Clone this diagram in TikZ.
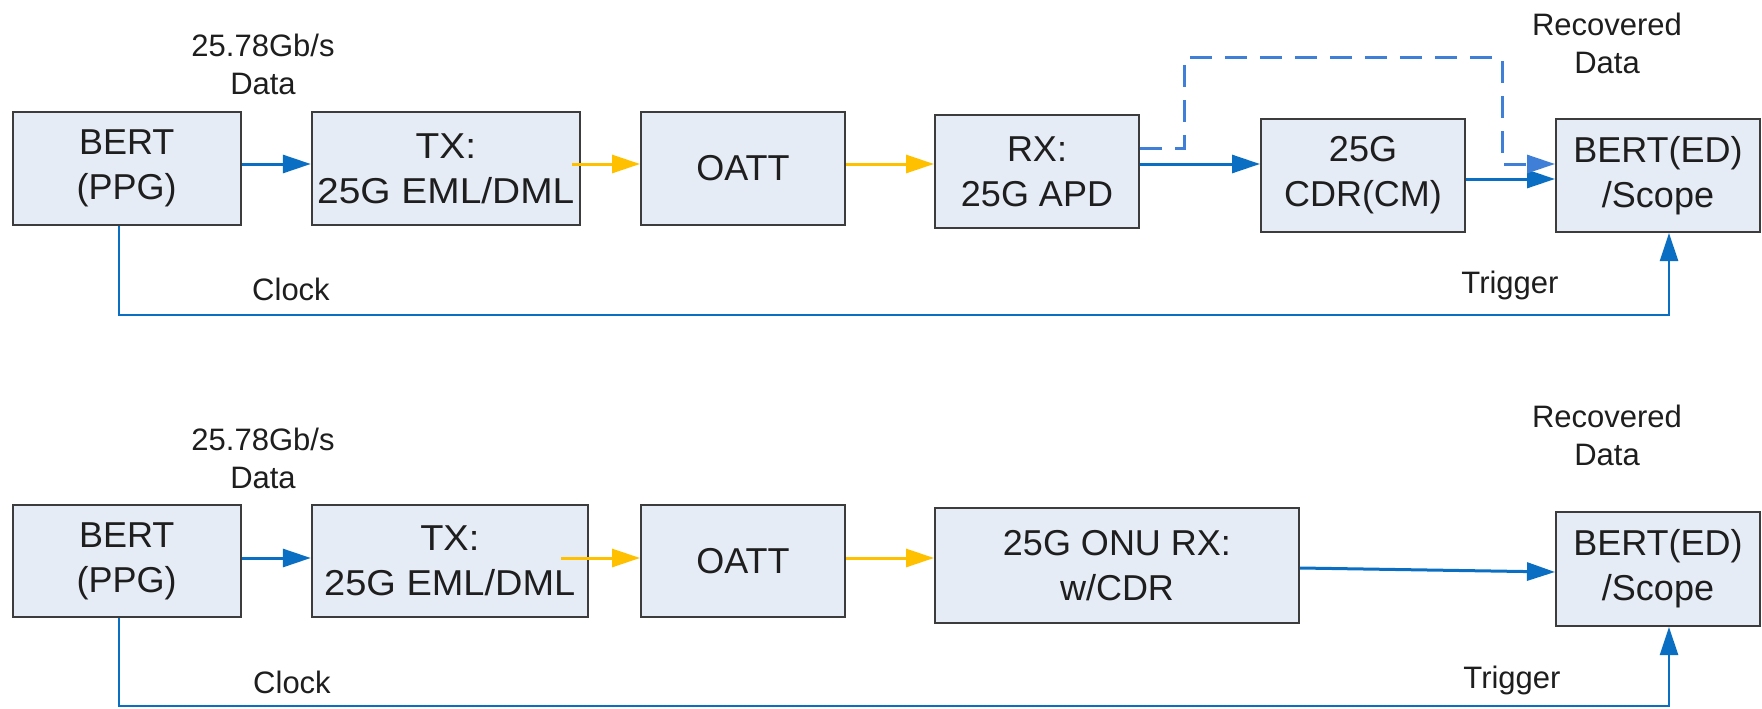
\documentclass[tikz,border=0pt]{standalone}
\usepackage{fontspec}
\setmainfont{Liberation Sans}
\newfontfamily\widea{Liberation Sans}[FakeStretch=1.08]
\newfontfamily\wideb{Liberation Sans}[FakeStretch=1.055]
\usetikzlibrary{arrows.meta}
\definecolor{boxfill}{HTML}{E6ECF6}
\definecolor{boxline}{HTML}{3C3C3C}
\definecolor{sigblue}{HTML}{0A6FC2}
\definecolor{optorange}{HTML}{FFC000}
\definecolor{dashblue}{HTML}{3F7FD8}
\definecolor{txt}{HTML}{1E1E1E}
\begin{document}
\begin{tikzpicture}[x=1pt,y=-1pt,
  blk/.style={draw=boxline,fill=boxfill,line width=2pt,align=center,inner sep=0pt,
    font=\fontsize{36}{45}\selectfont,text=txt,minimum height=113pt},
  lbl/.style={align=center,inner sep=0pt,font=\fontsize{31}{38}\selectfont,text=txt},
  tip/.style={-{Triangle[length=28pt,width=18pt]}},
  barrow/.style={draw=sigblue,line width=3pt,tip},
  oarrow/.style={draw=optorange,line width=3pt,tip},
  darrow/.style={draw=dashblue,line width=3pt,dash pattern=on 22pt off 13pt,tip},
  wire/.style={draw=sigblue,line width=2.5pt},
  ]
\useasboundingbox (0,0) rectangle (1762,709);

% ---------- top row ----------
\node[blk,minimum width=228pt] (bert1) at (126.7,168.3) {BERT\\(PPG)};
\node[blk,minimum width=268pt,font=\widea\fontsize{36}{45}\selectfont] (tx1) at (445.8,168.3) {TX:\\25G EML/DML};
\node[blk,minimum width=204pt] (oatt1) at (743,168.3) {OATT};
\node[blk,minimum width=204pt] (rx) at (1037,171.5) {RX:\\25G APD};
\node[blk,minimum width=204pt] (cdr) at (1363,175.5) {25G\\CDR(CM)};
\node[blk,minimum width=204pt] (bed1) at (1658,175.5) {BERT(ED)\\/Scope};

\coordinate (ya) at (0,164);
\coordinate (yb) at (0,179);
\coordinate (yc) at (0,148);
\coordinate (o1s) at (572,164);
\coordinate (d1) at (1184,58);
\coordinate (d2) at (1502,58);
\coordinate (c1) at (119,315);
\coordinate (c2) at (1669,315);

\draw[barrow] (bert1.east |- ya) -- (tx1.west |- ya);
\draw[oarrow] (o1s) -- (oatt1.west |- ya);
\draw[oarrow] (oatt1.east |- ya) -- (rx.west |- ya);
\draw[barrow] (rx.east |- ya) -- (cdr.west |- ya);
\draw[barrow] (cdr.east |- yb) -- (bed1.west |- yb);
\draw[darrow] (rx.east |- yc) -| (d1) -- (d2) |- (bed1.west |- ya);
\draw[wire,tip] (bert1.south -| c1) -- (c1) -- (c2) -- (bed1.south -| c2);

\node[lbl] (rate1) at (263,64.5) {25.78Gb/s\\Data};
\node[lbl] (rec1) at (1607,43) {Recovered\\Data};
\node[lbl,anchor=base] (clk1) at (291,300) {Clock};
\node[lbl,anchor=base] (trg1) at (1510,293) {Trigger};

% ---------- bottom row ----------
\node[blk,minimum width=228pt,minimum height=112pt] (bert2) at (126.7,561) {BERT\\(PPG)};
\node[blk,minimum width=276pt,minimum height=112pt,font=\wideb\fontsize{36}{45}\selectfont] (tx2) at (449.8,561) {TX:\\25G EML/DML};
\node[blk,minimum width=204pt,minimum height=112pt] (oatt2) at (743,561) {OATT};
\node[blk,minimum width=364pt,minimum height=115pt] (onu) at (1117,565.5) {25G ONU RX:\\w/CDR};
\node[blk,minimum width=204pt,minimum height=114pt] (bed2) at (1658,569) {BERT(ED)\\/Scope};

\coordinate (yd) at (0,558);
\coordinate (o2s) at (561,558);
\coordinate (e1) at (0,568);
\coordinate (e2) at (0,572);
\coordinate (c3) at (119,706);
\coordinate (c4) at (1669,706);

\draw[barrow] (bert2.east |- yd) -- (tx2.west |- yd);
\draw[oarrow] (o2s) -- (oatt2.west |- yd);
\draw[oarrow] (oatt2.east |- yd) -- (onu.west |- yd);
\draw[barrow] (onu.east |- e1) -- (bed2.west |- e2);
\draw[wire,tip] (bert2.south -| c3) -- (c3) -- (c4) -- (bed2.south -| c4);

\node[lbl] (rate2) at (263,458) {25.78Gb/s\\Data};
\node[lbl] (rec2) at (1607,435) {Recovered\\Data};
\node[lbl,anchor=base] (clk2) at (292,693) {Clock};
\node[lbl,anchor=base] (trg2) at (1512,688) {Trigger};
\end{tikzpicture}
\end{document}
